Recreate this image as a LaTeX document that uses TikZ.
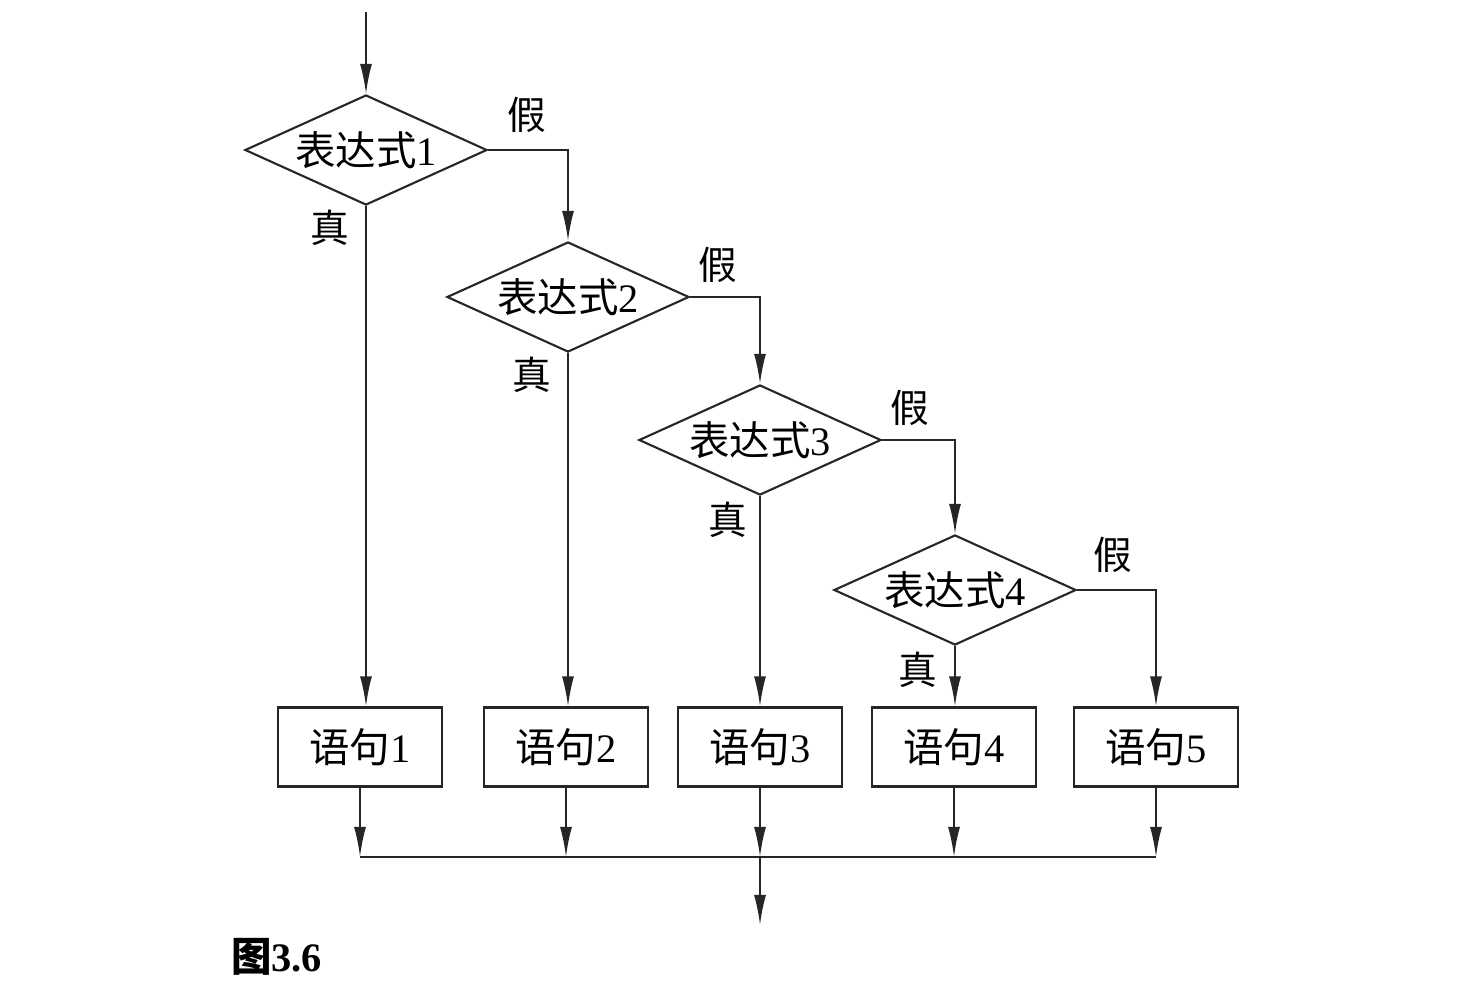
\documentclass[tikz,border=0pt]{standalone}
\usepackage{fontspec}
\setmainfont{Liberation Serif}
\newfontfamily\cjk{Noto Sans CJK SC}
\usetikzlibrary{positioning, arrows.meta, shapes.geometric, calc}

\begin{document}
\begin{tikzpicture}[
            x=0.01cm, y=-0.01cm,
            >={Latex[length=0.3cm,width=0.12cm]},
            line width=0.6pt,
            draw=black!85,
            test/.style={diamond, draw, aspect=2.2, inner sep=0pt, minimum width=2.42cm, minimum height=1.1cm, font=\fontsize{11.5}{13}\selectfont},
            stmt/.style={rectangle, draw, minimum width=1.64cm, minimum height=0.79cm, font=\fontsize{11.5}{13}\selectfont},
            tag/.style={inner sep=0pt, font=\fontsize{11}{13}\selectfont\cjk},
        ]
            \useasboundingbox (0,0) rectangle (1472,981);

            % Entry and exit points
            \coordinate (start) at (366,12);
            \coordinate (bus) at (0,857);
            \coordinate (end) at (760,925);

            % Draw the condition nodes
            \foreach \name / \x / \y in {1/366/150, 2/568/297, 3/760/440, 4/955/590}
                \node[test] (D-\name) at (\x,\y) {{\cjk 表达式}\name};

            % Draw the statement nodes
            \foreach \name / \x in {1/360, 2/566, 3/760, 4/954, 5/1156}
                \node[stmt] (S-\name) at (\x,747) {{\cjk 语句}\name};

            % Branch labels
            \foreach \name / \x / \y in {1/527/115, 2/718/265, 3/910/408, 4/1113/555}
                \node[tag] (F-\name) at (\x,\y) {假};
            \foreach \name / \x / \y in {1/330/228, 2/532/375, 3/728/520, 4/918/670}
                \node[tag] (T-\name) at (\x,\y) {真};

            % Connect the conditions
            \draw[->] (start) -- (D-1.north);
            \foreach \i / \j in {1/2, 2/3, 3/4}
                \draw[->] (D-\i.east) -| (D-\j.north);
            \draw[->] (D-4.east) -| (S-5.north);
            \foreach \i in {1,...,4}
                \draw[->] (D-\i.south) -- (D-\i.south |- S-\i.north);

            % Join the statements
            \foreach \i in {1,...,5}
                \draw[->] (S-\i.south) -- (S-\i.south |- bus);
            \draw (S-1.south |- bus) -- (S-5.south |- bus);
            \draw[->] (S-3.south |- bus) -- (end);

            % Caption
            \node[anchor=west, inner sep=0pt, font=\fontsize{11.5}{13}\selectfont\bfseries] (caption) at (230,957) {{\cjk 图}3.6};
        \end{tikzpicture}
\end{document}
